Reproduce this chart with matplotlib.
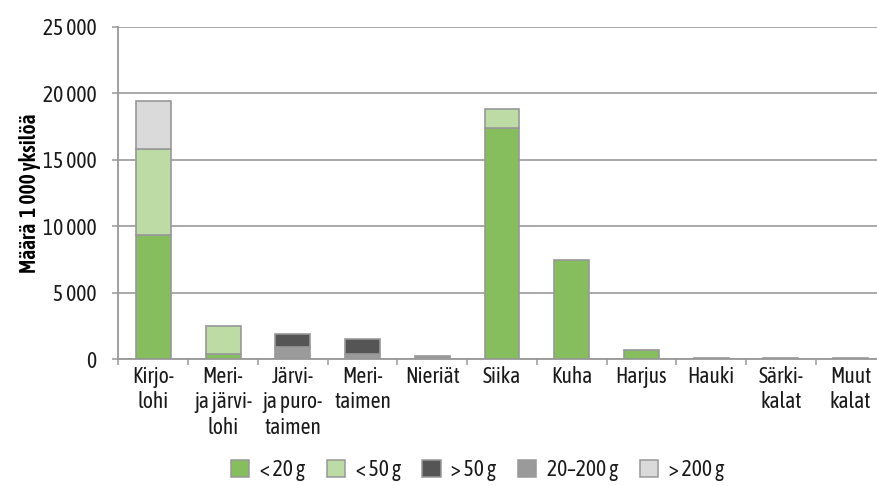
import numpy as np
import matplotlib as mpl
mpl.use('Agg')
import matplotlib.pyplot as plt
from matplotlib.patches import Patch

plt.rcParams['font.family'] = ['Asap Condensed', 'DejaVu Sans']
plt.rcParams['font.weight'] = 'normal'
plt.rcParams['font.size'] = 15.5
plt.rcParams['text.color'] = '#1a1a1a'
plt.rcParams['xtick.color'] = '#1a1a1a'
plt.rcParams['ytick.color'] = '#1a1a1a'

categories = ["Kirjo-\nlohi", "Meri-\nja järvi-\nlohi", "Järvi-\nja puro-\ntaimen",
              "Meri-\ntaimen", "Nieriät", "Siika", "Kuha", "Harjus", "Hauki",
              "Särki-\nkalat", "Muut\nkalat"]

# values, 1 000 individuals
lt20 = [9300, 350, 0, 0, 0, 17370, 7430, 650, 0, 0, 0]
lt50 = [6550, 2160, 0, 0, 0, 1480, 0, 0, 0, 0, 0]
g20_200 = [0, 0, 900, 400, 250, 0, 0, 0, 60, 60, 60]
gt50 = [0, 0, 1000, 1130, 0, 0, 0, 0, 0, 0, 0]
gt200 = [3550, 0, 0, 0, 0, 0, 0, 0, 0, 0, 0]

series = [("< 20 g", lt20, '#86be5e'),
          ("< 50 g", lt50, '#bddba4'),
          ("20–200 g", g20_200, '#9a9a9a'),
          ("> 50 g", gt50, '#555555'),
          ("> 200 g", gt200, '#dadada')]
legend_order = ["< 20 g", "< 50 g", "> 50 g", "20–200 g", "> 200 g"]

edge = '#989898'

fig = plt.figure(figsize=(8.77, 4.86), dpi=100)
ax = fig.add_axes([118.5/877, 127/486, 767/877, 332/486])

x = np.arange(len(categories))
bottom = np.zeros(len(categories))
colors = {}
for name, vals, col in series:
    vals = np.array(vals, dtype=float)
    m = vals > 0
    ax.bar(x[m], vals[m], 0.5, bottom=bottom[m], color=col, edgecolor=edge,
           linewidth=1.2, zorder=3)
    bottom += vals
    colors[name] = col

ax.set_xlim(-0.5, len(categories) - 0.5)
ax.set_ylim(0, 25000)
ax.set_yticks(np.arange(0, 25001, 5000))
ax.set_yticklabels(['{:,}'.format(v).replace(',', ' ') for v in range(0, 25001, 5000)])
ax.yaxis.grid(True, color='#999999', linewidth=1.2, zorder=0)
ax.set_axisbelow(True)

ax.set_xticks(np.arange(-0.5, len(categories), 1.0))
ax.set_xticklabels([])
ax.set_xticks(x, minor=True)
ax.set_xticklabels(categories, minor=True, linespacing=1.2, va='top')
ax.tick_params(axis='x', which='minor', length=0, pad=5)
ax.tick_params(axis='both', which='major', length=4, width=1.1, color='#999999', direction='out')
ax.tick_params(axis='y', pad=12)

for s in ['top', 'right']:
    ax.spines[s].set_visible(False)
for s in ['left', 'bottom']:
    ax.spines[s].set_color('#999999')
    ax.spines[s].set_linewidth(1.3)

ax.set_ylabel("Määrä  1 000 yksilöä", fontweight='semibold', va='center')
ax.yaxis.set_label_coords((30 - 118.5) / 767, 0.5)

handles = [Patch(facecolor=colors[n], edgecolor=edge, linewidth=1.1, label=n) for n in legend_order]
fig.legend(handles=handles, loc='center', bbox_to_anchor=(477.5/877, 1 - 470/486), ncol=5,
           frameon=False, handlelength=0.85, handleheight=0.85, handletextpad=0.5,
           columnspacing=1.0, fontsize=15.5)

fig.savefig('out.png', dpi=100)
